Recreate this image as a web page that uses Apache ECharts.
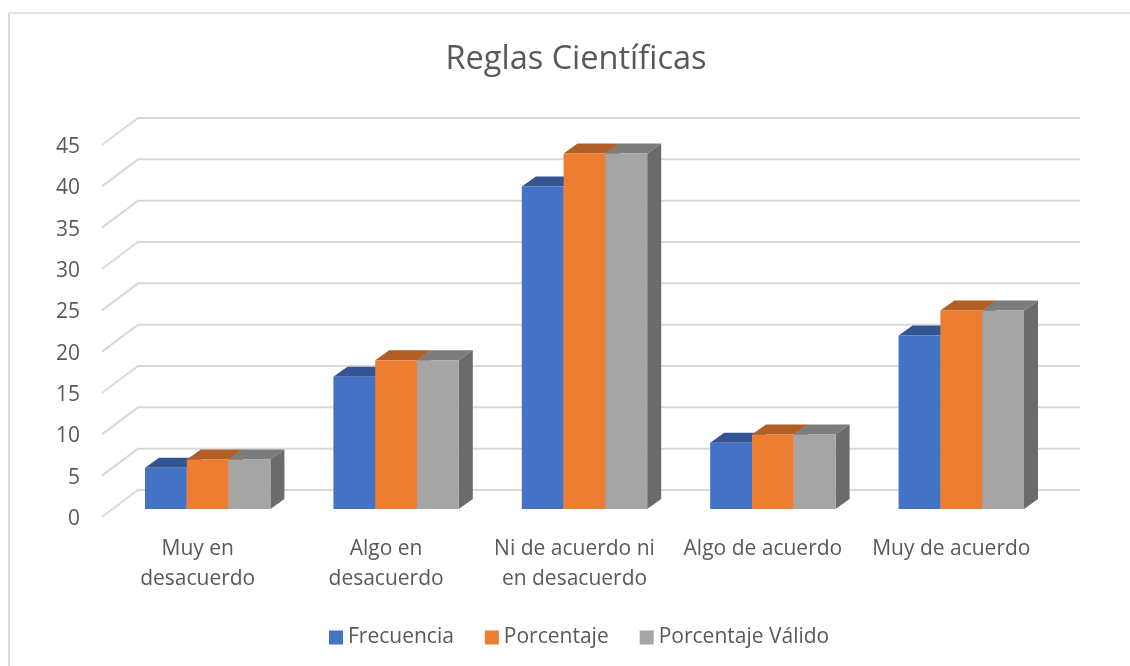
<!DOCTYPE html>
<html><head><meta charset="utf-8">
<style>html,body{margin:0;padding:0;background:#fff}#c{width:1130px;height:666px}</style>
<script src="https://cdn.jsdelivr.net/npm/echarts@6/dist/echarts.min.js"></script>
</head><body><div id="c"></div>
<script>
const categories = ['Muy en\ndesacuerdo','Algo en\ndesacuerdo','Ni de acuerdo ni\nen desacuerdo','Algo de acuerdo','Muy de acuerdo'];
const frecuencia = [5,16,39,8,21];
const porcentaje = [6,18,43,9,24];
const porcentajeValido = [6,18,43,9,24];
const yTicks = [0,5,10,15,20,25,30,35,40,45];

const FONT = '"Open Sans","Noto Sans",sans-serif';
const TXT = '#595959';
const GRID = '#D9D9D9';
const LABEL_DROP = 2;            // axis labels sit slightly below the front plane
const WALL = {dx:36, dy:27};     // front plane -> back wall
const PLANE = {dx:11.5, dy:8 + LABEL_DROP};   // axis plane -> bar plane
const DEPTH = {dx:14, dy:10};    // bar depth
const BW = 41.8;

function wallItem(params, api){
  const p = api.coord([0, api.value(1)]);
  const half = api.size([1,0])[0]/2;
  const n = categories.length;
  const x0 = p[0]-half, y = p[1] - LABEL_DROP;
  const xBack = x0 + WALL.dx, yBack = y - WALL.dy;
  const xEnd = xBack + half*2*n;
  return {type:'polyline', shape:{points:[[x0,y],[xBack,yBack],[xEnd,yBack]]},
    style:{stroke:GRID, lineWidth:2, fill:null}};
}
function barRender(slot, front, top, side){
  return function(params, api){
    const c = api.coord([api.value(0), api.value(1)]);
    const base = api.coord([api.value(0), 0]);
    const x = c[0] + PLANE.dx + (slot-1.5)*BW;
    const y = c[1] - PLANE.dy;
    const yb = base[1] - PLANE.dy;
    const r = x + BW;
    return {type:'group', children:[
      {type:'polygon', shape:{points:[[r,y],[r+DEPTH.dx,y-DEPTH.dy],[r+DEPTH.dx,yb-DEPTH.dy],[r,yb]]}, style:{fill:side}},
      {type:'polygon', shape:{points:[[x,y],[x+DEPTH.dx,y-DEPTH.dy],[r+DEPTH.dx,y-DEPTH.dy],[r,y]]}, style:{fill:top}},
      {type:'rect', shape:{x:x,y:y,width:BW,height:yb-y}, style:{fill:front}}
    ]};
  };
}
function pairs(a){ return a.map((v,i)=>[i,v]); }

const chart = echarts.init(document.getElementById('c'), null, {renderer:'canvas'});
chart.setOption({
  animation:false,
  backgroundColor:'#fff',
  title:{text:'Reglas Científicas', left:571, top:38, textAlign:'center',
    textStyle:{fontFamily:FONT, fontSize:32.5, fontWeight:'normal', color:TXT}},
  legend:{top:622, left:324, itemWidth:14, itemHeight:14, itemGap:31, icon:'rect',
    data:[{name:'Frecuencia',itemStyle:{color:'#4472C4'}},{name:'Porcentaje',itemStyle:{color:'#ED7D31'}},{name:'Porcentaje Válido',itemStyle:{color:'#A5A5A5'}}],
    textStyle:{fontFamily:FONT, fontSize:21, color:TXT}},
  grid:{left:102, top:145 + LABEL_DROP, width:942, height:372},
  xAxis:{type:'category', data:categories, axisLine:{show:false}, axisTick:{show:false}, splitLine:{show:false},
    axisLabel:{interval:0, margin:15, padding:[0,0,0,3], fontFamily:FONT, fontSize:21, lineHeight:30, color:TXT}},
  yAxis:{type:'value', min:0, max:45, interval:5, axisLine:{show:false}, axisTick:{show:false}, splitLine:{show:false},
    axisLabel:{margin:22, fontFamily:FONT, fontSize:21, color:TXT}},
  graphic:[
    {type:'line', shape:{x1:9,y1:13,x2:1130,y2:13}, style:{stroke:GRID,lineWidth:1.5}, silent:true},
    {type:'line', shape:{x1:9,y1:13,x2:9,y2:666}, style:{stroke:GRID,lineWidth:2}, silent:true}
  ],
  series:[
    {type:'custom', z:1, silent:true, renderItem:wallItem, data:yTicks.map(v=>[0,v]), encode:{x:0,y:1}},
    {type:'custom', name:'Frecuencia', z:2, renderItem:barRender(0,'#4472C4','#335593','#2A4A80'), data:pairs(frecuencia), encode:{x:0,y:1}, itemStyle:{color:'#4472C4'}},
    {type:'custom', name:'Porcentaje', z:3, renderItem:barRender(1,'#ED7D31','#B25E25','#9A5120'), data:pairs(porcentaje), encode:{x:0,y:1}, itemStyle:{color:'#ED7D31'}},
    {type:'custom', name:'Porcentaje Válido', z:4, renderItem:barRender(2,'#A5A5A5','#7C7C7C','#6B6B6B'), data:pairs(porcentajeValido), encode:{x:0,y:1}, itemStyle:{color:'#A5A5A5'}}
  ]
});
</script></body></html>
